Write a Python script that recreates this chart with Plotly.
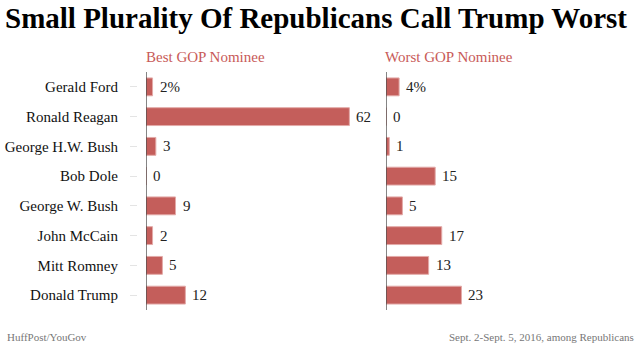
import plotly.graph_objects as go

# Survey results (% of Republicans)
nominees = ["Gerald Ford", "Ronald Reagan", "George H.W. Bush", "Bob Dole",
            "George W. Bush", "John McCain", "Mitt Romney", "Donald Trump"]
best_pct = [2, 62, 3, 0, 9, 2, 5, 12]
worst_pct = [4, 0, 1, 15, 5, 17, 13, 23]

W, H = 638, 348
BAR = "#c45e5b"
SERIF = "Liberation Serif"

def px(x):
    return x / W

def py(y):
    return 1 - y / H

x_max = 230 / 3.28  # shared scale for both panels

fig = go.Figure()
fig.add_trace(go.Bar(
    y=nominees, x=best_pct, orientation="h", xaxis="x", yaxis="y",
    marker=dict(color=BAR, line=dict(color="#e3aaa8", width=1)),
    width=0.6, hoverinfo="skip",
))
fig.add_trace(go.Bar(
    y=nominees, x=worst_pct, orientation="h", xaxis="x2", yaxis="y",
    marker=dict(color=BAR, line=dict(color="#e3aaa8", width=1)),
    width=0.6, hoverinfo="skip",
))

annotations = []
for axis, values in (("x", best_pct), ("x2", worst_pct)):
    for i, (name, v) in enumerate(zip(nominees, values)):
        annotations.append(dict(
            x=v, y=name, xref=axis, yref="y", xanchor="left", yanchor="middle",
            xshift=5, showarrow=False, text=f"{v}%" if i == 0 else str(v),
            font=dict(family=SERIF, size=15, color="#222"),
        ))

annotations += [
    dict(x=px(143.5), y=py(57), xref="paper", yref="paper", xanchor="left",
         yanchor="middle", showarrow=False, text="Best GOP Nominee",
         font=dict(family=SERIF, size=15, color="#c85a58")),
    dict(x=px(383.5), y=py(57), xref="paper", yref="paper", xanchor="left",
         yanchor="middle", showarrow=False, text="Worst GOP Nominee",
         font=dict(family=SERIF, size=15, color="#c85a58")),
    dict(x=px(3), y=py(18), xref="paper", yref="paper", xanchor="left",
         yanchor="middle", showarrow=False,
         text="<b>Small Plurality Of Republicans Call Trump Worst</b>",
         font=dict(family=SERIF, size=29, color="#000")),
    dict(x=px(5), y=py(337), xref="paper", yref="paper", xanchor="left",
         yanchor="middle", showarrow=False, text="HuffPost/YouGov",
         font=dict(family=SERIF, size=11, color="#777")),
    dict(x=px(636), y=py(337), xref="paper", yref="paper", xanchor="right",
         yanchor="middle", showarrow=False,
         text="Sept. 2-Sept. 5, 2016, among Republicans",
         font=dict(family=SERIF, size=11, color="#777")),
]

shapes = [
    dict(type="line", xref="x", yref="paper", x0=0, x1=0,
         y0=py(310), y1=py(72), line=dict(color="#333", width=1.2)),
    dict(type="line", xref="x2", yref="paper", x0=0, x1=0,
         y0=py(310), y1=py(72), line=dict(color="#333", width=1.2)),
]

fig.update_layout(
    width=W, height=H, margin=dict(l=0, r=0, t=0, b=0),
    paper_bgcolor="white", plot_bgcolor="white", showlegend=False,
    font=dict(family=SERIF),
    bargap=0.4,
    xaxis=dict(domain=[px(146), px(376)], range=[0, x_max], visible=False,
               anchor="y"),
    xaxis2=dict(domain=[px(386), px(616)], range=[0, x_max], visible=False,
                anchor="y"),
    yaxis=dict(domain=[py(310), py(72)], autorange="reversed",
               anchor="free", position=px(137), showline=False,
               showgrid=False, zeroline=False, ticks="outside", ticklen=7,
               tickcolor="#e4e4e4", tickwidth=1, ticklabelstandoff=9,
               tickfont=dict(family=SERIF, size=15, color="#111")),
    annotations=annotations, shapes=shapes,
)

fig.write_html("out.html")
